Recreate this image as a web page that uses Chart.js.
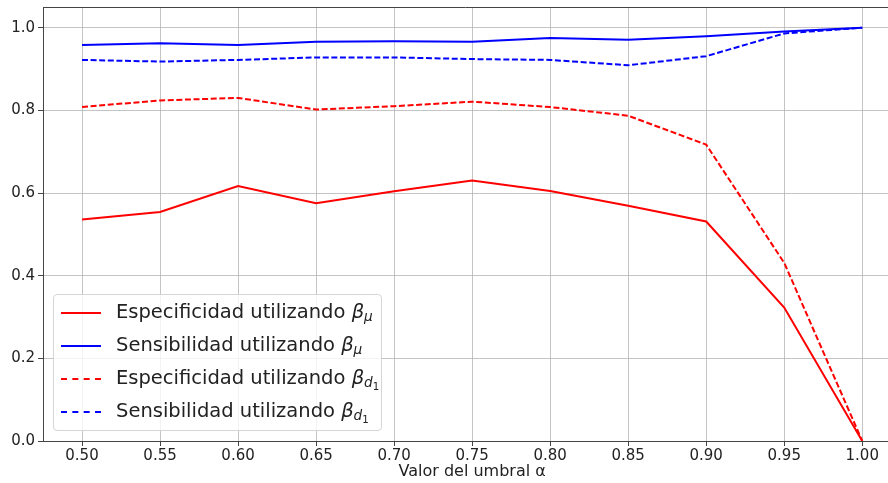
<!DOCTYPE html>
<html>
<head>
<meta charset="utf-8">
<script src="https://cdn.jsdelivr.net/npm/chart.js@4"></script>
<style>
  html, body { margin: 0; padding: 0; background: #fff; }
  #wrap { position: relative; width: 888px; height: 483px; }
  #legend {
    position: absolute; left: 53px; top: 294px; width: 327px; height: 135px;
    background: rgba(255,255,255,0.8); border: 1px solid #d5d5d5; border-radius: 4px;
    font-family: "DejaVu Sans", sans-serif; font-size: 19.5px; color: #222;
  }
  .row { position: absolute; left: 0; height: 30px; line-height: 30px; white-space: nowrap; }
  .sample { position: absolute; left: 7px; top: 15px; width: 40px; height: 0; }
  .txt { position: absolute; left: 62px; top: 0; }
  .m { font-style: italic; }
  .m sub { font-size: 70%; vertical-align: -0.25em; line-height: 0; }
  .m sub sub { font-size: 75%; font-style: normal; }
</style>
</head>
<body>
<div id="wrap">
  <canvas id="c" width="888" height="483"></canvas>
  <div id="legend"></div>
</div>
<script>
const thresholds = [0.50, 0.55, 0.60, 0.65, 0.70, 0.75, 0.80, 0.85, 0.90, 0.95, 1.00];
const specMu = [0.536, 0.554, 0.617, 0.575, 0.604, 0.630, 0.605, 0.569, 0.531, 0.323, 0.0];
const sensMu = [0.958, 0.962, 0.958, 0.966, 0.967, 0.966, 0.975, 0.971, 0.979, 0.991, 1.0];
const specD1 = [0.808, 0.824, 0.830, 0.802, 0.810, 0.821, 0.808, 0.787, 0.717, 0.431, 0.0];
const sensD1 = [0.922, 0.918, 0.922, 0.928, 0.928, 0.924, 0.922, 0.909, 0.931, 0.986, 1.0];
const xTicks = [0.50, 0.55, 0.60, 0.65, 0.70, 0.75, 0.80, 0.85, 0.90, 0.95, 1.00];
const yTicks = [0.0, 0.2, 0.4, 0.6, 0.8, 1.0];
const xTitle = 'Valor del umbral α';
const labels = [
  'Especificidad utilizando β<sub>μ</sub>',
  'Sensibilidad utilizando β<sub>μ</sub>',
  'Especificidad utilizando β<sub>d<sub>1</sub></sub>',
  'Sensibilidad utilizando β<sub>d<sub>1</sub></sub>'
];

const pts = arr => thresholds.map((x, i) => ({x: x, y: arr[i]}));
const DASH = [6, 2.6];
const series = [
  {data: specMu, color: '#ff0000', dash: []},
  {data: sensMu, color: '#0000ff', dash: []},
  {data: specD1, color: '#ff0000', dash: DASH},
  {data: sensD1, color: '#0000ff', dash: DASH}
];

const extras = {
  id: 'extras',
  afterDraw(chart) {
    const a = chart.chartArea, ctx = chart.ctx;
    ctx.save();
    ctx.strokeStyle = '#444';
    ctx.lineWidth = 1;
    ctx.beginPath();
    ctx.moveTo(a.left, a.top + 0.5);
    ctx.lineTo(a.right, a.top + 0.5);
    ctx.stroke();
    const xs = chart.scales.x;
    const cx = xs.getPixelForValue((0.475 + 1.025) / 2);
    ctx.fillStyle = '#222';
    ctx.font = '16px "DejaVu Sans"';
    ctx.textAlign = 'center';
    ctx.textBaseline = 'middle';
    ctx.fillText(xTitle, cx, 472);
    ctx.restore();
  }
};

const font = {family: 'DejaVu Sans', size: 15};
new Chart(document.getElementById('c'), {
  type: 'line',
  data: {
    datasets: series.map((s, i) => ({
      label: 'serie' + i,
      data: pts(s.data),
      borderColor: s.color,
      backgroundColor: s.color,
      borderWidth: 2,
      borderDash: s.dash,
      pointRadius: 0,
      tension: 0,
      fill: false
    }))
  },
  options: {
    responsive: false,
    animation: false,
    layout: {padding: {top: 7, right: 0, left: 0, bottom: 0}},
    plugins: {legend: {display: false}, tooltip: {enabled: false}},
    scales: {
      x: {
        type: 'linear',
        min: 0.475,
        max: 1.0165,
        afterBuildTicks: sc => { sc.ticks = xTicks.map(v => ({value: v})); },
        afterFit: sc => { sc.height = 42; sc.paddingLeft = 0; sc.paddingRight = 0; },
        ticks: {callback: v => v.toFixed(2), font: font, color: '#222', padding: 1, maxRotation: 0, autoSkip: false},
        grid: {color: 'rgba(176,176,176,0.75)', lineWidth: 1, tickLength: 5, tickColor: '#444'},
        border: {color: '#444', width: 1},
        title: {display: false}
      },
      y: {
        min: 0,
        max: 1.05,
        afterBuildTicks: sc => { sc.ticks = yTicks.map(v => ({value: v})); },
        afterFit: sc => { sc.width = 43; sc.paddingTop = 0; sc.paddingBottom = 0; },
        ticks: {callback: v => v.toFixed(1), font: font, color: '#222', padding: 3},
        grid: {color: 'rgba(176,176,176,0.75)', lineWidth: 1, tickLength: 5, tickColor: '#444'},
        border: {color: '#444', width: 1}
      }
    }
  },
  plugins: [extras]
});

const lg = document.getElementById('legend');
const rowTops = [2, 35, 68, 101];
series.forEach((s, i) => {
  const row = document.createElement('div');
  row.className = 'row';
  row.style.top = rowTops[i] + 'px';
  const sm = document.createElement('div');
  sm.className = 'sample';
  sm.style.borderTop = '2px ' + (s.dash.length ? 'dashed ' : 'solid ') + s.color;
  const parts = labels[i].split('β');
  const t = document.createElement('span');
  t.className = 'txt';
  t.innerHTML = parts[0] + '<span class="m">β' + parts[1] + '</span>';
  row.appendChild(sm);
  row.appendChild(t);
  lg.appendChild(row);
});
</script>
</body>
</html>
